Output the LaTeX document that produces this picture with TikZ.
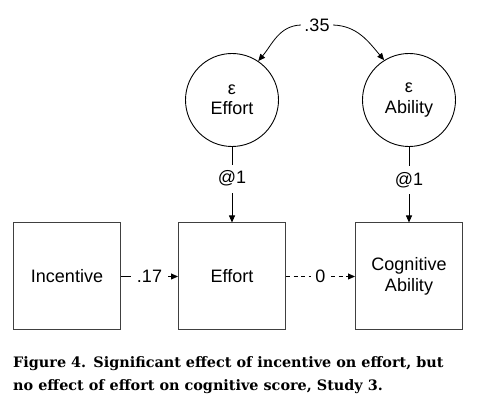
\documentclass[tikz,border=0pt]{standalone}
\usepackage{fontspec}
\setmainfont{Liberation Sans}
\newfontfamily\capfont{DejaVu Serif}
\usepackage{tikz}
\usetikzlibrary{shapes.geometric, arrows.meta, positioning, calc}
\tikzset{
    measure/.style = {rectangle, minimum width=107pt, minimum height=107pt, text centered, align=center, draw=black!75, line width=1pt},
    resid/.style = {circle, minimum size=93pt, inner sep=0pt, align=center, draw=black, line width=0.9pt},
    arrow/.style = {line width=0.8pt, -{Triangle[length=7pt, width=6pt]}},
    coef/.style = {fill=white, inner xsep=5.8pt, inner ysep=2pt},
    fixed/.style = {fill=white, inner xsep=2pt, inner ysep=6.2pt},
    caption/.style = {anchor=base west, inner sep=0pt, font=\capfont\bfseries\fontsize{14.4}{22}\selectfont}
}

\begin{document}
\begin{tikzpicture}[node distance=165pt, font=\fontsize{18}{20.5}\selectfont]
                    \useasboundingbox (-67pt,-126.5pt) rectangle (417pt,276.5pt);
                    % Nodes
                    \node (n1) [measure] {Incentive};
                    \node (n2) [measure, right of=n1] {Effort};
                    \node (n3) [measure, right of=n2, node distance=177pt] {Cognitive\\Ability};
                    \node (e1) [resid, above of=n2, node distance=176.5pt] {ε\\Effort};
                    \node (e2) [resid, above of=n3, node distance=176.5pt] {ε\\Ability};
                    \node (r) at ($(e1)!0.5!(e2)+(-3.5pt,75pt)$) {.35};

                    %Arrows
                    \draw [arrow] (n1) -- node[coef] {.17} (n2);
                    \draw [arrow, dash pattern=on 4pt off 3.5pt] (n2) -- node[coef, inner xsep=4pt] {0} (n3);
                    \draw [arrow] (e1) -- node[fixed, pos=0.42] {@1} (n2);
                    \draw [arrow] (e2) -- node[fixed, pos=0.44] {@1} (n3);
                    \draw [arrow] (r.west) to[out=182, in=50] (e1.56);
                    \draw [arrow] (r.east) to[out=-2, in=130] (e2.122);

                    % Caption
                    \node (cap1) [caption] at (-54pt,-91.5pt) {Figure 4.\hspace{0.5em}Significant effect of incentive on effort, but};
                    \node (cap2) [caption] at (-54pt,-114pt) {no effect of effort on cognitive score, Study 3.};
                \end{tikzpicture}
\end{document}
